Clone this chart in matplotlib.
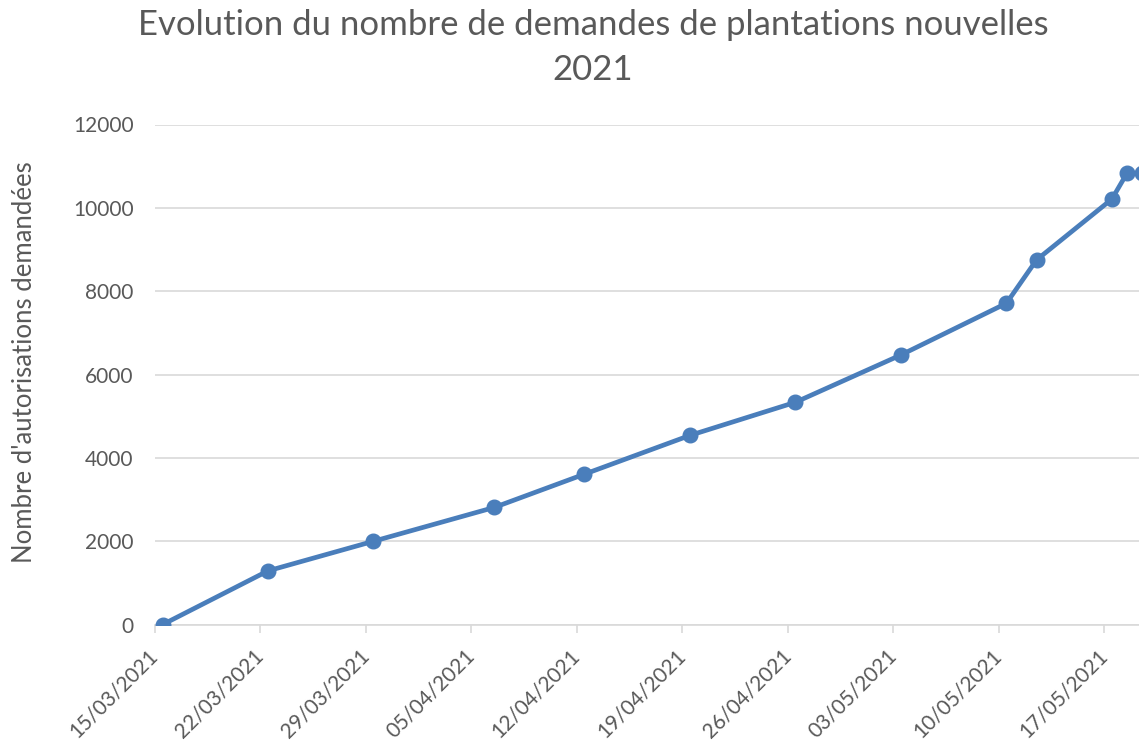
import matplotlib
matplotlib.use("Agg")
import matplotlib.pyplot as plt
import matplotlib.dates as mdates
import matplotlib.transforms as mtrans
import numpy as np
import datetime as dt

# données
dates = ["15/03/2021", "22/03/2021", "29/03/2021", "06/04/2021", "12/04/2021",
         "19/04/2021", "26/04/2021", "03/05/2021", "10/05/2021", "12/05/2021",
         "17/05/2021", "18/05/2021", "19/05/2021"]
demandes = [0, 1290, 2000, 2810, 3610, 4540, 5335, 6470, 7710, 8750,
            10210, 10830, 10830]
tick_dates = ["15/03/2021", "22/03/2021", "29/03/2021", "05/04/2021", "12/04/2021",
              "19/04/2021", "26/04/2021", "03/05/2021", "10/05/2021", "17/05/2021"]
y_ticks = [0, 2000, 4000, 6000, 8000, 10000, 12000]

grey = "#595959"
blue = "#4a7ebb"
plt.rcParams['font.family'] = ['Lato', 'DejaVu Sans']

def to_num(s):
    return mdates.date2num(dt.datetime.strptime(s, "%d/%m/%Y"))

# Excel centre chaque point au milieu de la journée
x = np.array([to_num(d) for d in dates]) + 0.5
xt = [to_num(d) for d in tick_dates]

W, H = 1139, 740
fig = plt.figure(figsize=(W / 100, H / 100), dpi=100)
ax = fig.add_axes([155 / W, 1 - 624.6 / H, (W - 155) / W, (624.6 - 124.5) / H])

ax.plot(x, demandes, color=blue, lw=3.4, marker="o", ms=10.5, zorder=3)

ax.set_ylim(0, 12000)
ax.set_xlim(xt[0], xt[0] + 65.3)
ax.set_yticks(y_ticks)
ax.set_yticklabels([str(v) for v in y_ticks])
ax.set_xticks(xt)
ax.set_xticklabels(tick_dates, rotation=45, ha="right", va="center",
                   rotation_mode="anchor")
shift = mtrans.ScaledTranslation(6 / 100, 0, fig.dpi_scale_trans)
for lab in ax.get_xticklabels():
    lab.set_transform(lab.get_transform() + shift)

ax.grid(axis="y", color="#d9d9d9", lw=1.2)
ax.set_axisbelow(True)
for s in ["top", "right", "left"]:
    ax.spines[s].set_visible(False)
ax.spines["bottom"].set_color("#d9d9d9")
ax.spines["bottom"].set_linewidth(1.2)
ax.tick_params(axis="y", length=0, pad=15.5, labelsize=15, labelcolor=grey)
ax.tick_params(axis="x", length=6, color="#d9d9d9", width=1.2, pad=14,
               labelsize=15, labelcolor=grey)

fig.text(25 / W, 1 - 362 / H, "Nombre d'autorisations demandées", rotation=90,
         ha="center", va="center", fontsize=18.5, color=grey)
fig.text(593 / W, 1 - 25 / H, "Evolution du nombre de demandes de plantations nouvelles",
         ha="center", va="center", fontsize=25, color=grey)
fig.text(593 / W, 1 - 70 / H, "2021", ha="center", va="center", fontsize=25, color=grey)

fig.savefig("out.png", dpi=100)
